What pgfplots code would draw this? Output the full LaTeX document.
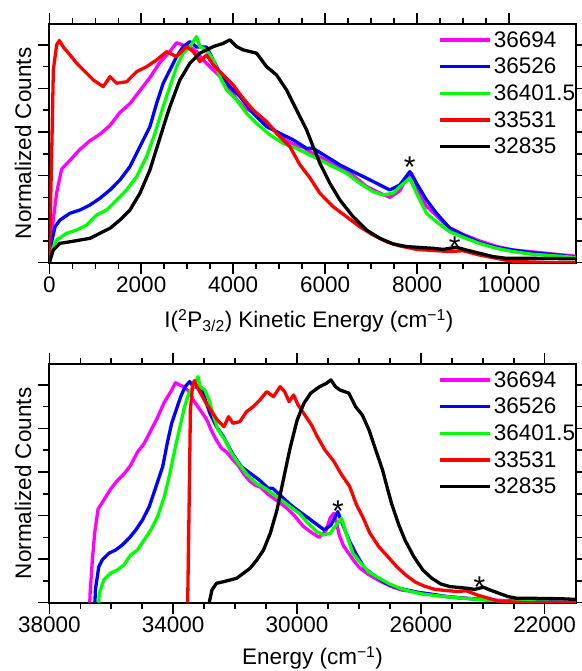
\documentclass[border=0pt]{standalone}
\usepackage{fontspec}
\setmainfont{Liberation Sans}
\usepackage{pgfplots}
\pgfplotsset{compat=1.18}
\usepackage{pgfplotstable}

\definecolor{cMag}{RGB}{255,0,255}
\definecolor{cBlue}{RGB}{0,0,255}
\definecolor{cGreen}{RGB}{0,255,0}
\definecolor{cRed}{RGB}{255,0,0}

% kinetic energy (cm^-1) vs normalized counts, one table per photolysis energy
\pgfplotstableread{
ke y
0 0.0
15 0.05
87 0.20
160 0.32
269 0.43
450 0.47
667 0.52
885 0.56
1102 0.59
1320 0.63
1537 0.69
1754 0.73
1972 0.79
2189 0.85
2407 0.92
2624 0.97
2770 1.01
2900 1.00
3060 0.99
3200 0.97
3350 0.93
3493 0.90
3640 0.87
3783 0.84
3930 0.79
4074 0.75
4250 0.71
4435 0.69
4600 0.66
4798 0.63
4980 0.59
5161 0.56
5340 0.54
5524 0.53
5739 0.50
6030 0.47
6320 0.44
6609 0.40
6900 0.35
7189 0.32
7407 0.30
7624 0.33
7770 0.39
7878 0.41
7950 0.38
8059 0.31
8200 0.26
8350 0.23
8493 0.20
8711 0.16
9000 0.13
9363 0.10
9726 0.075
10087 0.058
10450 0.051
10813 0.043
11391 0.031
12000 0.022
13000 0.012
14000 0.006
15000 0.003
15700 0.0
}\dataA

\pgfplotstableread{
ke y
0 0.0
15 0.06
124 0.165
233 0.196
450 0.227
667 0.242
885 0.265
1102 0.296
1320 0.334
1537 0.38
1754 0.441
1972 0.533
2189 0.625
2335 0.732
2478 0.824
2624 0.885
2770 0.946
2913 0.992
3059 1.015
3204 0.99
3422 0.99
3565 0.931
3711 0.87
3928 0.808
4146 0.763
4435 0.686
4726 0.625
5015 0.594
5304 0.564
5596 0.525
5739 0.525
6030 0.487
6320 0.449
6609 0.418
6900 0.388
7189 0.357
7407 0.334
7624 0.357
7841 0.418
7987 0.365
8204 0.288
8422 0.227
8711 0.158
9000 0.127
9363 0.092
9726 0.07
10087 0.058
10450 0.047
10813 0.04
11391 0.027
12000 0.02
13000 0.01
14000 0.005
15526 0.0
}\dataB

\pgfplotstableread{
ke y
0 0.0
15 0.04
160 0.104
378 0.135
595 0.15
813 0.173
1030 0.219
1248 0.242
1465 0.288
1683 0.334
1900 0.395
2117 0.487
2298 0.594
2478 0.717
2624 0.808
2770 0.90
2913 0.962
3059 0.992
3204 1.038
3276 0.992
3422 0.977
3565 0.931
3711 0.854
3857 0.793
4074 0.747
4291 0.686
4509 0.64
4798 0.587
5087 0.548
5378 0.525
5596 0.502
5885 0.472
6174 0.441
6465 0.411
6754 0.365
7043 0.326
7261 0.311
7478 0.319
7624 0.349
7841 0.388
7987 0.319
8204 0.227
8422 0.188
8711 0.142
9000 0.117
9363 0.088
9726 0.066
10087 0.051
10450 0.04
10813 0.034
11391 0.025
12000 0.018
13000 0.008
14000 0.004
15400 0.0
}\dataC

\pgfplotstableread{
ke y
0 0.0
52 0.50
88 0.885
160 1.0
218 1.02
305 0.99
450 0.954
595 0.916
740 0.885
957 0.839
1174 0.808
1320 0.854
1465 0.824
1683 0.831
1900 0.877
2117 0.90
2335 0.931
2552 0.969
2696 0.954
2770 0.946
2987 0.992
3132 0.969
3276 0.923
3422 0.954
3565 0.908
3783 0.862
4000 0.816
4183 0.763
4435 0.701
4726 0.648
4943 0.594
5233 0.533
5450 0.45
5667 0.39
5885 0.319
6174 0.257
6465 0.211
6754 0.165
7043 0.127
7335 0.096
7624 0.077
7987 0.061
8350 0.056
8711 0.051
8996 0.055
9363 0.035
9726 0.02
10015 0.008
10500 0.003
11000 0.0
12531 0.0
}\dataD

\pgfplotstableread{
ke y
0 0.0
87 0.058
233 0.089
450 0.096
667 0.104
885 0.112
1102 0.135
1320 0.158
1537 0.196
1754 0.242
1972 0.319
2189 0.426
2370 0.548
2552 0.671
2624 0.717
2770 0.80
2841 0.839
3059 0.916
3276 0.962
3565 0.992
3783 1.007
3928 1.023
4074 0.992
4217 0.977
4509 0.962
4726 0.90
4943 0.862
5161 0.793
5378 0.701
5450 0.671
5596 0.61
5739 0.533
5885 0.457
6102 0.365
6320 0.288
6609 0.211
6900 0.15
7189 0.112
7478 0.086
7770 0.074
8059 0.07
8350 0.066
8565 0.061
8856 0.071
9073 0.058
9363 0.043
9652 0.028
9943 0.02
10450 0.02
11000 0.019
11391 0.018
11835 0.015
}\dataE

\tikzset{astmark/.style={anchor=base, font=\fontsize{30}{30}\selectfont}}

\pgfplotsset{
  panel/.style={
    scale only axis,
    width=526.4pt, height=238.7pt,
    ymin=0, ymax=1.096,
    ytick={0,0.2,0.4,0.6,0.8,1.0},
    minor y tick num=1,
    yticklabels={},
    tick align=outside,
    major tick length=11pt,
    minor tick length=6pt,
    axis line style={line width=1.8pt},
    every tick/.style={black, line width=1.5pt},
    scaled ticks=false,
    /pgf/number format/1000 sep={},
    /pgf/number format/assume math mode=true,
    ylabel={Normalized Counts},
    y label style={at={(axis description cs:-0.05,0.5)}, anchor=center},
    x label style={at={(axis description cs:0.5,0)}, anchor=base, yshift=-65pt},
    legend cell align=left,
    legend style={at={(axis description cs:0.738,0.975)}, anchor=north west,
      draw=none, fill=none, inner sep=0pt,
      nodes={inner xsep=2.5pt, inner ysep=0pt, text height=17pt, text depth=9.7pt}},
    legend image code/.code={\draw[#1] (0pt,0.36em) -- (50pt,0.36em);},
    every axis plot/.append style={line width=3.3pt, line join=round},
  },
}

\begin{document}
\begin{tikzpicture}[font=\fontsize{22.5}{27}\selectfont]
\useasboundingbox (0,0) rectangle (581pt,671pt);

\begin{axis}[panel,
  at={(49.3pt,408.3pt)}, anchor=south west,
  xmin=0, xmax=11450,
  xtick={0,2000,4000,6000,8000,10000},
  minor x tick num=3,
  x label style={at={(axis description cs:0.493,0)}},
  xlabel={I(\textsuperscript{2}P\textsubscript{3/2}) Kinetic Energy (cm\textsuperscript{−1})},
]
\addplot[cMag] table[x=ke, y=y] {\dataA};
\addlegendentry{36694}
\addplot[cBlue] table[x=ke, y=y] {\dataB};
\addlegendentry{36526}
\addplot[cGreen] table[x=ke, y=y] {\dataC};
\addlegendentry{36401.5}
\addplot[cRed] table[x=ke, y=y] {\dataD};
\addlegendentry{33531}
\addplot[black] table[x=ke, y=y] {\dataE};
\addlegendentry{32835}
\node[astmark] at (axis cs:7841,0.39) {*};
\node[astmark] at (axis cs:8820,0.023) {*};
\end{axis}

\begin{axis}[panel,
  at={(49.3pt,68.3pt)}, anchor=south west,
  x dir=reverse,
  xmin=21000, xmax=38000,
  xtick={22000,26000,30000,34000,38000},
  minor x tick num=3,
  x label style={yshift=3pt},
  xlabel={Energy (cm\textsuperscript{−1})},
]
\addplot[cMag] table[x expr=36694-\thisrow{ke}, y=y] {\dataA};
\addlegendentry{36694}
\addplot[cBlue] table[x expr=36526-\thisrow{ke}, y=y] {\dataB};
\addlegendentry{36526}
\addplot[cGreen] table[x expr=36401.5-\thisrow{ke}, y=y] {\dataC};
\addlegendentry{36401.5}
\addplot[cRed] table[x expr=33531-\thisrow{ke}, y=y] {\dataD};
\addlegendentry{33531}
\addplot[black] table[x expr=32835-\thisrow{ke}, y=y] {\dataE};
\addlegendentry{32835}
\node[astmark] at (axis cs:28677,0.375) {*};
\node[astmark] at (axis cs:24106,0.026) {*};
\end{axis}
\end{tikzpicture}
\end{document}
